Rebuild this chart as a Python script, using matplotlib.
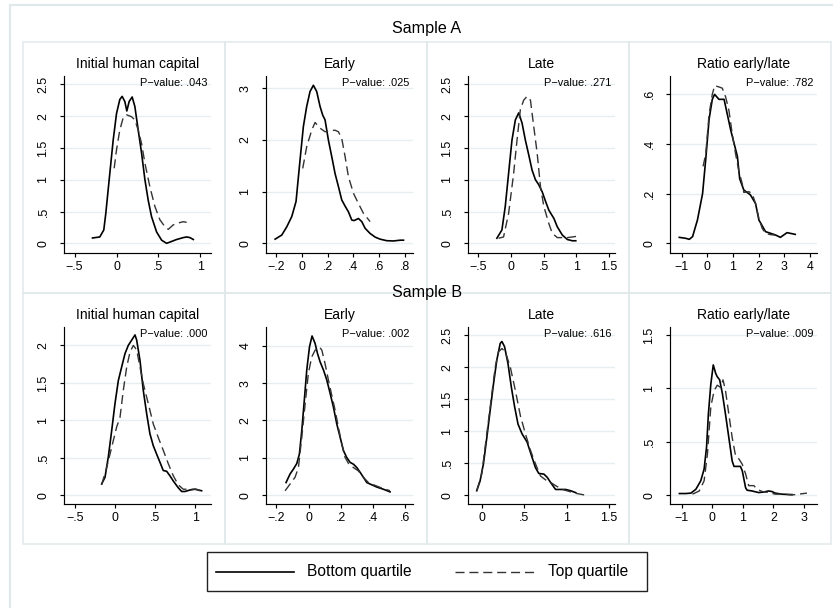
import matplotlib
matplotlib.use('Agg')
import matplotlib.pyplot as plt
from matplotlib.patches import Rectangle
from matplotlib.lines import Line2D

plt.rcParams['font.family'] = ['Liberation Sans', 'DejaVu Sans']

# ---------------- text ----------------
sample_titles = ['Sample A', 'Sample B']
panel_titles = ['Initial human capital', 'Early', 'Late', 'Ratio early/late']
p_values_a = ['.043', '.025', '.271', '.782']
p_values_b = ['.000', '.002', '.616', '.009']
legend_labels = ['Bottom quartile', 'Top quartile']

# ---------------- ticks ----------------
xticks_a = [[-.5, 0, .5, 1], [-.2, 0, .2, .4, .6, .8], [-.5, 0, .5, 1, 1.5], [-1, 0, 1, 2, 3, 4]]
yticks_a = [[0, .5, 1, 1.5, 2, 2.5], [0, 1, 2, 3], [0, .5, 1, 1.5, 2, 2.5], [0, .2, .4, .6]]
xticks_b = [[-.5, 0, .5, 1], [-.2, 0, .2, .4, .6], [0, .5, 1, 1.5], [-1, 0, 1, 2, 3]]
yticks_b = [[0, .5, 1, 1.5, 2], [0, 1, 2, 3, 4], [0, .5, 1, 1.5, 2, 2.5], [0, .5, 1, 1.5]]

# ---------------- Sample A: Initial human capital ----------------
a_init_bot_x = [-0.287, -0.200, -0.152, -0.128, -0.080, -0.040, 0.000, 0.039, 0.067, 0.099, 0.123,
                0.151, 0.187, 0.219, 0.259, 0.299, 0.339, 0.378, 0.418, 0.478, 0.538, 0.598,
                0.658, 0.717, 0.797, 0.837, 0.877, 0.917]
a_init_bot_y = [0.084, 0.10, 0.21, 0.47, 1.10, 1.62, 2.04, 2.26, 2.31, 2.23, 2.08,
                2.23, 2.30, 2.15, 1.78, 1.42, 1.00, 0.68, 0.42, 0.18, 0.05, 0.0,
                0.03, 0.06, 0.09, 0.10, 0.09, 0.06]
a_init_top_x = [-0.028, 0.000, 0.039, 0.079, 0.119, 0.179, 0.219, 0.259, 0.299, 0.339, 0.398,
                0.458, 0.518, 0.578, 0.618, 0.677, 0.737, 0.797, 0.837]
a_init_top_y = [1.18, 1.47, 1.78, 1.97, 2.02, 1.99, 1.94, 1.78, 1.57, 1.26, 0.89,
                0.58, 0.37, 0.26, 0.22, 0.29, 0.32, 0.34, 0.33]

# ---------------- Sample A: Early ----------------
a_early_bot_x = [-0.21, -0.158, -0.119, -0.080, -0.047, -0.016, 0.010, 0.036, 0.062, 0.088, 0.114,
                 0.140, 0.161, 0.179, 0.205, 0.231, 0.257, 0.283, 0.309, 0.335, 0.361, 0.387,
                 0.405, 0.439, 0.465, 0.491, 0.530, 0.569, 0.608, 0.660, 0.712, 0.764, 0.790]
a_early_bot_y = [0.08, 0.16, 0.32, 0.52, 0.81, 1.61, 2.26, 2.65, 2.94, 3.06, 2.94,
                 2.65, 2.48, 2.39, 2.00, 1.68, 1.35, 1.10, 0.84, 0.72, 0.61, 0.45,
                 0.44, 0.48, 0.42, 0.29, 0.19, 0.12, 0.08, 0.05, 0.045, 0.06, 0.06]
a_early_top_x = [0.005, 0.036, 0.075, 0.101, 0.140, 0.179, 0.218, 0.257, 0.283, 0.309, 0.335,
                 0.361, 0.400, 0.439, 0.478, 0.530]
a_early_top_y = [1.45, 1.87, 2.19, 2.34, 2.23, 2.16, 2.18, 2.19, 2.16, 2.03, 1.68,
                 1.29, 0.97, 0.77, 0.58, 0.42]

# ---------------- Sample A: Late ----------------
a_late_bot_x = [-0.212, -0.135, -0.084, -0.033, 0.018, 0.070, 0.121, 0.172, 0.223, 0.274, 0.325,
                0.376, 0.427, 0.479, 0.530, 0.581, 0.658, 0.709, 0.786, 0.863, 0.939, 0.991]
a_late_bot_y = [0.08, 0.21, 0.58, 1.10, 1.62, 1.94, 2.05, 1.89, 1.62, 1.39, 1.15,
                1.00, 0.92, 0.81, 0.66, 0.52, 0.39, 0.26, 0.13, 0.06, 0.04, 0.04]
a_late_top_x = [-0.186, -0.110, -0.033, 0.044, 0.095, 0.146, 0.197, 0.249, 0.300, 0.351, 0.402,
                0.453, 0.504, 0.581, 0.632, 0.709, 0.786, 0.863, 0.939, 1.067]
a_late_top_y = [0.08, 0.10, 0.47, 1.10, 1.62, 2.10, 2.25, 2.31, 2.25, 1.83, 1.42,
                0.89, 0.58, 0.31, 0.16, 0.09, 0.09, 0.09, 0.10, 0.12]

# ---------------- Sample A: Ratio early/late ----------------
a_ratio_bot_x = [-1.10, -0.84, -0.71, -0.58, -0.39, -0.19, -0.065, 0.065, 0.19, 0.28, 0.45,
                 0.65, 0.91, 1.17, 1.26, 1.42, 1.68, 1.88, 2.01, 2.27, 2.65, 2.85, 3.11, 3.43]
a_ratio_bot_y = [0.024, 0.020, 0.016, 0.027, 0.094, 0.20, 0.34, 0.50, 0.58, 0.60, 0.58,
                 0.58, 0.456, 0.35, 0.26, 0.215, 0.195, 0.16, 0.094, 0.047, 0.034, 0.024, 0.043, 0.036]
a_ratio_top_x = [-0.17, -0.065, 0.065, 0.19, 0.28, 0.45, 0.58, 0.71, 0.84, 0.97, 1.10,
                 1.23, 1.36, 1.42, 1.62, 1.75, 1.88, 2.01, 2.14, 2.27, 2.46, 2.65]
a_ratio_top_y = [0.31, 0.36, 0.52, 0.60, 0.635, 0.63, 0.625, 0.59, 0.535, 0.44, 0.36,
                 0.29, 0.24, 0.205, 0.208, 0.20, 0.16, 0.10, 0.06, 0.04, 0.035, 0.033]

# ---------------- Sample B: Initial human capital ----------------
b_init_bot_x = [-0.167, -0.125, -0.084, -0.042, -0.001, 0.041, 0.082, 0.124, 0.165, 0.207, 0.249,
                0.270, 0.311, 0.352, 0.394, 0.435, 0.477, 0.518, 0.560, 0.601, 0.643, 0.684,
                0.726, 0.788, 0.830, 0.871, 0.934, 0.996, 1.037, 1.079]
b_init_bot_y = [0.15, 0.24, 0.51, 0.86, 1.22, 1.53, 1.71, 1.89, 2.00, 2.07, 2.14,
                2.07, 1.80, 1.40, 1.09, 0.82, 0.66, 0.55, 0.44, 0.33, 0.32, 0.26,
                0.19, 0.10, 0.05, 0.05, 0.07, 0.08, 0.07, 0.06]
b_init_top_x = [-0.167, -0.104, -0.042, 0.020, 0.062, 0.103, 0.145, 0.186, 0.228, 0.270, 0.311,
                0.352, 0.415, 0.477, 0.539, 0.601, 0.664, 0.726, 0.788, 0.850, 0.934, 1.017, 1.058]
b_init_top_y = [0.14, 0.37, 0.64, 0.91, 1.04, 1.40, 1.71, 1.91, 2.00, 1.94, 1.71,
                1.49, 1.22, 0.95, 0.77, 0.60, 0.42, 0.26, 0.14, 0.08, 0.08, 0.08, 0.06]

# ---------------- Sample B: Early ----------------
b_early_bot_x = [-0.140, -0.115, -0.094, -0.073, -0.057, -0.042, -0.028, -0.011, 0.006, 0.022, 0.041,
                 0.056, 0.072, 0.093, 0.114, 0.135, 0.155, 0.176, 0.197, 0.218, 0.238, 0.259,
                 0.280, 0.301, 0.322, 0.342, 0.363, 0.394, 0.425, 0.467, 0.508]
b_early_bot_y = [0.34, 0.57, 0.70, 0.85, 1.10, 1.73, 2.45, 3.35, 3.97, 4.26, 4.06,
                 3.79, 3.57, 3.35, 3.08, 2.72, 2.36, 1.91, 1.55, 1.19, 1.01, 0.88,
                 0.83, 0.74, 0.61, 0.48, 0.34, 0.28, 0.22, 0.16, 0.09]
b_early_top_x = [-0.146, -0.115, -0.084, -0.063, -0.042, -0.021, -0.001, 0.020, 0.041, 0.068, 0.083,
                 0.103, 0.124, 0.145, 0.166, 0.186, 0.207, 0.228, 0.249, 0.280, 0.311, 0.342,
                 0.373, 0.405, 0.446, 0.508]
b_early_top_y = [0.12, 0.30, 0.48, 0.74, 1.55, 2.45, 3.26, 3.70, 3.88, 3.97, 3.88,
                 3.52, 3.08, 2.67, 2.27, 1.82, 1.37, 1.01, 0.85, 0.74, 0.65, 0.48,
                 0.34, 0.28, 0.21, 0.12]

# ---------------- Sample B: Late ----------------
b_late_bot_x = [-0.062, -0.023, 0.017, 0.057, 0.096, 0.136, 0.175, 0.215, 0.235, 0.266, 0.306,
                0.346, 0.385, 0.425, 0.472, 0.532, 0.591, 0.631, 0.670, 0.730, 0.769, 0.809,
                0.868, 0.927, 0.987, 1.046, 1.106]
b_late_bot_y = [0.07, 0.22, 0.49, 0.90, 1.32, 1.74, 2.11, 2.37, 2.40, 2.32, 2.06,
                1.69, 1.38, 1.11, 0.96, 0.83, 0.59, 0.43, 0.34, 0.33, 0.28, 0.20,
                0.09, 0.09, 0.09, 0.07, 0.04]
b_late_top_x = [-0.062, -0.003, 0.057, 0.116, 0.156, 0.195, 0.235, 0.274, 0.334, 0.393, 0.453,
                0.512, 0.572, 0.631, 0.690, 0.750, 0.809, 0.868, 0.948, 1.027, 1.106, 1.205]
b_late_top_y = [0.07, 0.33, 0.96, 1.58, 2.00, 2.24, 2.29, 2.24, 2.00, 1.64, 1.24,
                0.96, 0.70, 0.49, 0.30, 0.24, 0.20, 0.15, 0.09, 0.06, 0.03, 0.005]

# ---------------- Sample B: Ratio early/late ----------------
b_ratio_bot_x = [-1.08, -0.87, -0.70, -0.54, -0.38, -0.27, -0.19, -0.13, -0.05, 0.03, 0.11,
                 0.16, 0.24, 0.33, 0.43, 0.54, 0.65, 0.71, 0.92, 0.98, 1.09, 1.14,
                 1.30, 1.52, 1.68, 1.84, 1.95, 2.06, 2.28, 2.61]
b_ratio_bot_y = [0.016, 0.016, 0.02, 0.056, 0.135, 0.245, 0.45, 0.76, 1.04, 1.22, 1.14,
                 1.11, 1.08, 0.95, 0.76, 0.54, 0.32, 0.27, 0.27, 0.23, 0.07, 0.047,
                 0.04, 0.025, 0.03, 0.04, 0.035, 0.02, 0.01, 0.006]
b_ratio_top_x = [-0.65, -0.43, -0.27, -0.16, -0.05, 0.06, 0.16, 0.27, 0.35, 0.43, 0.54,
                 0.65, 0.76, 0.87, 0.98, 1.09, 1.19, 1.36, 1.47, 1.63, 1.85, 2.06,
                 2.28, 2.61, 2.83, 3.10]
b_ratio_top_y = [0.01, 0.04, 0.135, 0.39, 0.83, 0.98, 1.03, 1.01, 1.08, 0.98, 0.76,
                 0.54, 0.37, 0.34, 0.29, 0.20, 0.09, 0.09, 0.056, 0.035, 0.025, 0.01,
                 0.01, 0.003, 0.01, 0.02]

rows = [
    [(a_init_bot_x, a_init_bot_y, a_init_top_x, a_init_top_y),
     (a_early_bot_x, a_early_bot_y, a_early_top_x, a_early_top_y),
     (a_late_bot_x, a_late_bot_y, a_late_top_x, a_late_top_y),
     (a_ratio_bot_x, a_ratio_bot_y, a_ratio_top_x, a_ratio_top_y)],
    [(b_init_bot_x, b_init_bot_y, b_init_top_x, b_init_top_y),
     (b_early_bot_x, b_early_bot_y, b_early_top_x, b_early_top_y),
     (b_late_bot_x, b_late_bot_y, b_late_top_x, b_late_top_y),
     (b_ratio_bot_x, b_ratio_bot_y, b_ratio_top_x, b_ratio_top_y)],
]
row_xticks = [xticks_a, xticks_b]
row_yticks = [yticks_a, yticks_b]
row_pvals = [p_values_a, p_values_b]

# axis ranges (layout)
xlims = [[(-0.627, 1.128), (-0.281, 0.864), (-0.652, 1.589), (-1.462, 4.28)],
         [(-0.636, 1.196), (-0.265, 0.651), (-0.165, 1.569), (-1.388, 3.43)]]
ylims = [[(-0.152, 2.63), (-0.188, 3.24), (-0.152, 2.63), (-0.039, 0.674)],
         [(-0.117, 2.246), (-0.234, 4.50), (-0.137, 2.626), (-0.082, 1.575)]]


def fmt(v):
    if float(v).is_integer():
        s = str(int(abs(v)))
    else:
        s = f"{abs(v):g}"
        if s.startswith('0'):
            s = s[1:]
    return ('\u2212' + s) if v < 0 else s


W, H = 833, 608
DPI = 100
fig = plt.figure(figsize=(W / DPI, H / DPI), dpi=DPI)
fig.patch.set_facecolor('white')

BORDER = '#e1e8eb'
GRID = '#e6eef0'


def frect(x0, y0, x1, y1, **kw):
    r = Rectangle((x0 / W, 1 - y1 / H), (x1 - x0) / W, (y1 - y0) / H,
                  transform=fig.transFigure, **kw)
    fig.add_artist(r)
    return r


# outer region border (clipped at right/bottom as in reference)
frect(10, 5, 845, 620, fill=False, edgecolor=BORDER, lw=1.6)

row_tops = [42, 293]
for r in range(2):
    by = row_tops[r]
    for c in range(4):
        bx = 23 + 202 * c
        frect(bx, by, bx + 202, by + 251, fill=False, edgecolor=BORDER, lw=1.1)

for r in range(2):
    by = row_tops[r]
    for c in range(4):
        bx = 23 + 202 * c
        left, right = bx + 41, bx + 188
        top, bottom = by + 34, by + 211
        ax = fig.add_axes([left / W, 1 - bottom / H, (right - left) / W, (bottom - top) / H])
        ax.set_facecolor('none')
        bx_, by_, tx_, ty_ = rows[r][c]
        ax.plot(bx_, by_, color='black', lw=1.2, solid_joinstyle='round')
        ax.plot(tx_, ty_, color='#333333', lw=1.0, dashes=(6.5, 3.5))
        ax.set_xlim(*xlims[r][c])
        ax.set_ylim(*ylims[r][c])
        xt = row_xticks[r][c]
        yt = row_yticks[r][c]
        ax.set_xticks(xt)
        ax.set_xticklabels([fmt(v) for v in xt])
        ax.set_yticks(yt)
        ax.set_yticklabels([fmt(v) for v in yt], rotation=90, va='center')
        for s in ['top', 'right']:
            ax.spines[s].set_visible(False)
        for s in ['left', 'bottom']:
            ax.spines[s].set_linewidth(0.85)
            ax.spines[s].set_color('black')
        ax.tick_params(axis='both', direction='out', length=3.0, width=0.85, labelsize=8.9,
                       colors='black')
        ax.tick_params(axis='x', pad=2.6)
        ax.tick_params(axis='y', pad=7.5)
        ax.yaxis.grid(True, color=GRID, lw=1.0)
        ax.set_axisbelow(True)
        ax.set_title(panel_titles[c], fontsize=10.0, pad=6.0)
        ax.text(1 - 4 / 147, 1 - 10 / 177, 'P\u2212value: ' + row_pvals[r][c],
                transform=ax.transAxes, ha='right', va='baseline', fontsize=7.9)

# Sample titles
fig.text(427 / W, 1 - 33.5 / H, sample_titles[0], ha='center', va='baseline', fontsize=11.6)
fig.text(427 / W, 1 - 296.5 / H, sample_titles[1], ha='center', va='baseline', fontsize=11.6)

# Legend
frect(207, 552, 647, 591, fill=False, edgecolor='#222222', lw=1.0)
ly = 1 - 571.5 / H
fig.add_artist(Line2D([216 / W, 294 / W], [ly, ly], transform=fig.transFigure,
                      color='black', lw=1.2))
fig.text(307 / W, ly, legend_labels[0], ha='left', va='center', fontsize=11.2)
fig.add_artist(Line2D([455 / W, 534 / W], [ly, ly], transform=fig.transFigure,
                      color='#333333', lw=1.0, dashes=(6.5, 3.5)))
fig.text(548 / W, ly, legend_labels[1], ha='left', va='center', fontsize=11.2)

fig.savefig('out.png', dpi=DPI, facecolor='white')
